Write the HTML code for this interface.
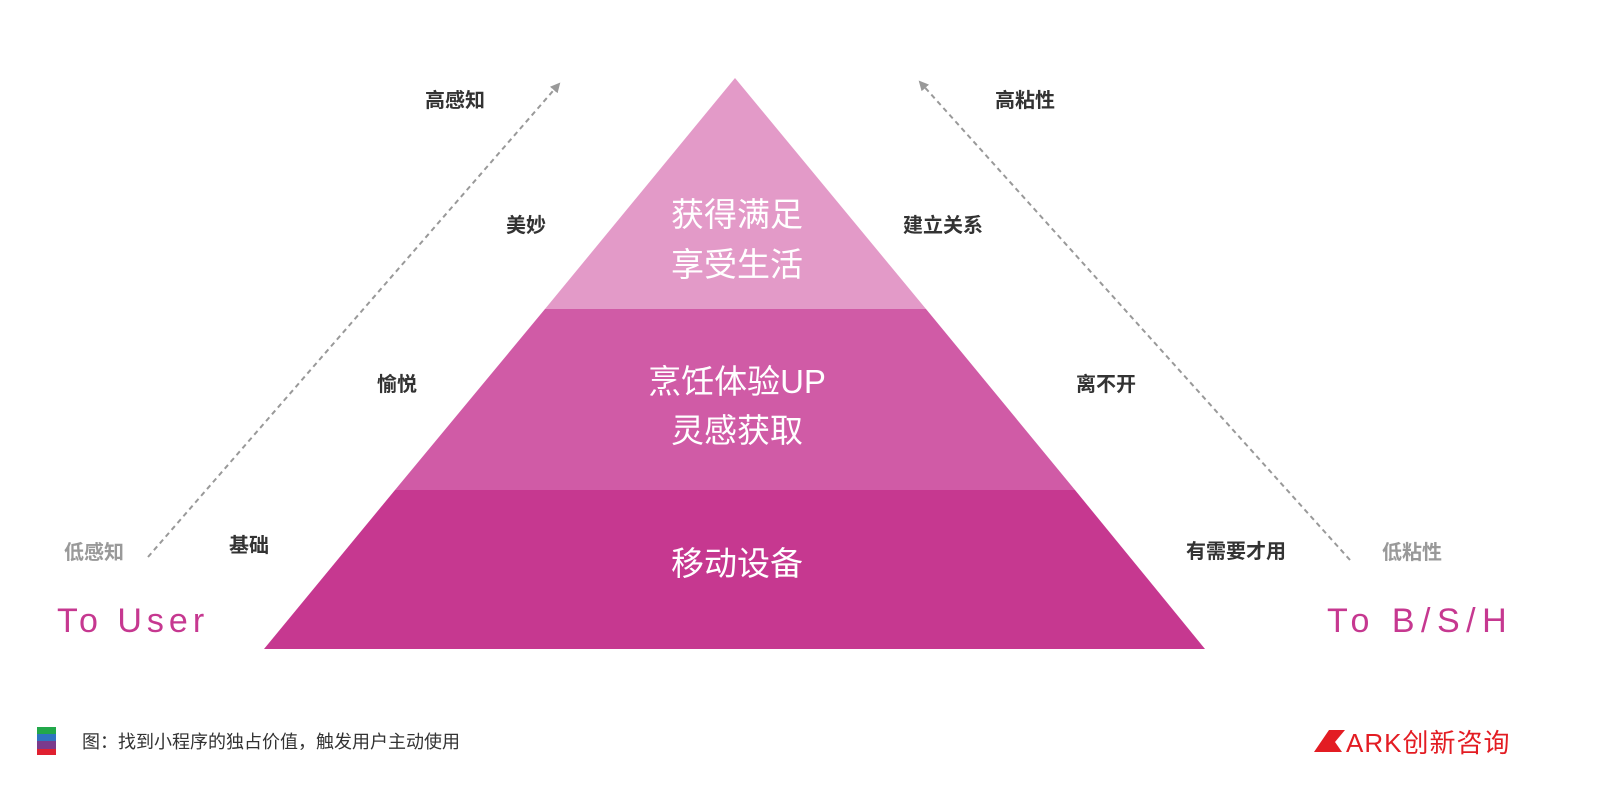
<!DOCTYPE html>
<html><head><meta charset="utf-8"><style>
body{margin:0;background:#fff;}
svg text{font-family:"Liberation Sans","Noto Sans CJK SC",sans-serif;}
</style></head><body>
<svg width="1600" height="800" viewBox="0 0 1600 800" xmlns="http://www.w3.org/2000/svg">
<defs>
<marker id="ah" markerWidth="10" markerHeight="10" refX="8" refY="5" orient="auto" markerUnits="userSpaceOnUse">
<path d="M0,0 L10,5 L0,10 z" fill="#999"/>
</marker>
</defs>
<polygon points="735,78 926,309 545,309" fill="#e39ac8"/>
<polygon points="545,309 926,309 1075,490 395,490" fill="#d05ba6"/>
<polygon points="395,490 1075,490 1205,649 264,649" fill="#c63890"/>
<g fill="#fff" font-size="33" text-anchor="middle">
<text x="737" y="226">获得满足</text>
<text x="737" y="276">享受生活</text>
<text x="737" y="393">烹饪体验UP</text>
<text x="737" y="442">灵感获取</text>
<text x="737" y="575">移动设备</text>
</g>
<line x1="148" y1="557" x2="559" y2="84" stroke="#999" stroke-width="2" stroke-dasharray="5,4" marker-end="url(#ah)"/>
<line x1="1350" y1="560" x2="920" y2="82" stroke="#999" stroke-width="2" stroke-dasharray="5,4" marker-end="url(#ah)"/>
<g font-size="20" font-weight="bold" fill="#333" text-anchor="middle">
<text x="455" y="107">高感知</text>
<text x="526" y="232">美妙</text>
<text x="397" y="391">愉悦</text>
<text x="249" y="552">基础</text>
<text x="1025" y="107">高粘性</text>
<text x="943" y="232">建立关系</text>
<text x="1106" y="391">离不开</text>
<text x="1236" y="558">有需要才用</text>
</g>
<g font-size="20" font-weight="bold" fill="#999" text-anchor="middle">
<text x="94" y="559">低感知</text>
<text x="1412" y="559">低粘性</text>
</g>
<g font-size="34" fill="#c63890">
<text x="57" y="632" letter-spacing="5">To User</text>
<text x="1327" y="632" letter-spacing="6.5">To B/S/H</text>
</g>
<rect x="37" y="727" width="19" height="7" fill="#22a84a"/>
<rect x="37" y="734" width="19" height="7" fill="#2f74c0"/>
<rect x="37" y="741" width="19" height="8" fill="#7a3a8c"/>
<rect x="37" y="749" width="19" height="6" fill="#e02030"/>
<text x="82" y="748" font-size="18" fill="#333">图：找到小程序的独占价值，触发用户主动使用</text>
<polygon points="1329,730 1345,730 1335,742 1342,752 1314,752" fill="#e31c23"/>
<text x="1346" y="752" font-size="26" fill="#e31c23" letter-spacing="1">ARK创新咨询</text>
</svg>
</body></html>
